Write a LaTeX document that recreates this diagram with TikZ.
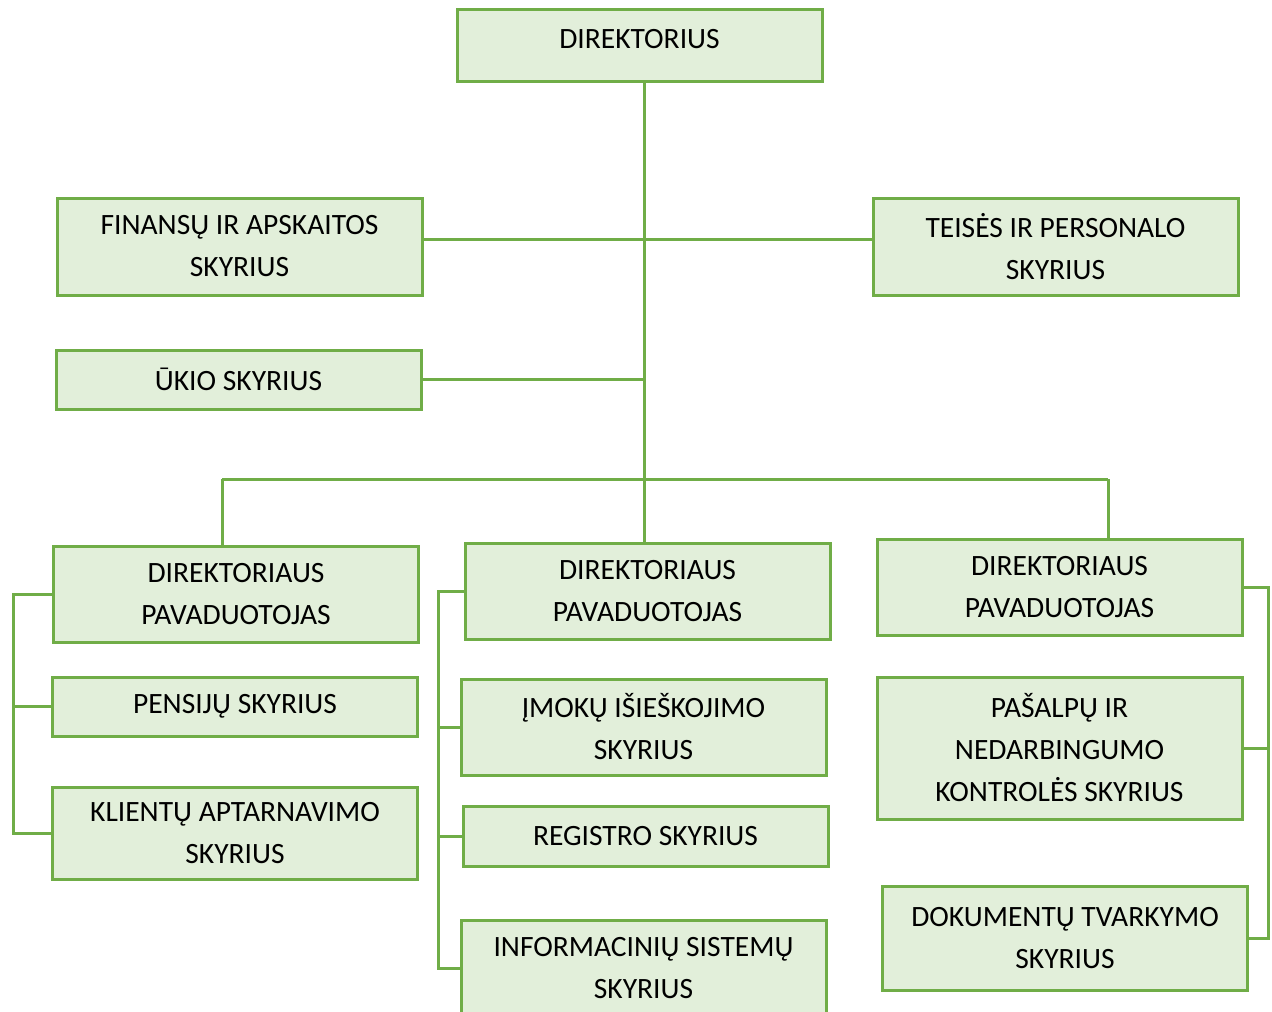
\documentclass[tikz,border=0pt]{standalone}
\usepackage{fontspec}
\setmainfont{Carlito}
\definecolor{orggreen}{HTML}{70AD47}
\definecolor{orgfill}{HTML}{E2EFDA}
\usetikzlibrary{positioning}

\begin{document}
\begin{tikzpicture}[x=0.5pt,y=-0.5pt,
  unit/.style={draw=orggreen,fill=orgfill,line width=1.5pt,align=center,
    inner sep=2pt,font=\fontsize{14.75}{21}\selectfont,minimum width=182.5pt},
  link/.style={orggreen,line width=1.5pt}]
  \useasboundingbox (0,0) rectangle (1272,1011);
  \node[unit,minimum height=36pt,text depth=7pt] (dir) at (639.5,46) {DIREKTORIUS};
  \node[unit,minimum height=48.5pt] (fin)    at (239.5,246.5) {FINANSŲ IR APSKAITOS\\SKYRIUS};
  \node[unit,minimum height=48.5pt] (teis)   at (1055.5,246.5){TEISĖS IR PERSONALO\\SKYRIUS};
  \node[unit,minimum height=29.5pt] (ukio)   at (238.5,379.5) {ŪKIO SKYRIUS};
  \node[unit,minimum height=48pt]   (pavA)   at (236,594)     {DIREKTORIAUS\\PAVADUOTOJAS};
  \node[unit,minimum height=48pt]   (pavB)   at (647.5,591)   {DIREKTORIAUS\\PAVADUOTOJAS};
  \node[unit,minimum height=48pt]   (pavC)   at (1059.5,587)  {DIREKTORIAUS\\PAVADUOTOJAS};
  \node[unit,minimum height=29.5pt] (pens)   at (235,706.5)   {PENSIJŲ SKYRIUS};
  \node[unit,minimum height=46pt]   (klient) at (235,833)     {KLIENTŲ APTARNAVIMO\\SKYRIUS};
  \node[unit,minimum height=48pt]   (imok)   at (643.5,727)   {ĮMOKŲ IŠIEŠKOJIMO\\SKYRIUS};
  \node[unit,minimum height=30pt]   (reg)    at (645.5,836)   {REGISTRO SKYRIUS};
  \node[unit,minimum height=48pt]   (info)   at (643.5,968)   {INFORMACINIŲ SISTEMŲ\\SKYRIUS};
  \node[unit,minimum height=71pt]   (pasalp) at (1059.5,748)  {PAŠALPŲ IR\\NEDARBINGUMO\\KONTROLĖS SKYRIUS};
  \node[unit,minimum height=52pt]   (dok)    at (1065,938)    {DOKUMENTŲ TVARKYMO\\SKYRIUS};
  % trunk and side units
  \coordinate (trunk) at (644,0);
  \draw[link] (dir.south -| trunk) -- (pavB.north -| trunk);
  \draw[link] ([yshift=3.5pt]fin.east) -- ([yshift=3.5pt]teis.west);
  \draw[link] (ukio.east) -- (ukio.east -| trunk);
  % deputies bus
  \coordinate (busL) at (222,479);
  \coordinate (busR) at (1108,479);
  \draw[link] (busL) -- (busR);
  \draw[link] (busL) -- (busL |- pavA.north);
  \draw[link] (busR) -- (busR |- pavC.north);
  % brackets under each deputy
  \coordinate (rodA) at (13,0);
  \coordinate (rodB) at (438,0);
  \coordinate (rodC) at (1268,0);
  \draw[link] (pavA.west) -- (pavA.west -| rodA) -- (klient.west -| rodA) -- (klient.west);
  \draw[link] (pens.west) -- (pens.west -| rodA);
  \draw[link] (pavB.west) -- (pavB.west -| rodB) -- (info.west -| rodB) -- (info.west);
  \draw[link] (imok.west) -- (imok.west -| rodB);
  \draw[link] (reg.west) -- (reg.west -| rodB);
  \draw[link] (pavC.east) -- (pavC.east -| rodC) -- (dok.east -| rodC) -- (dok.east);
  \draw[link] (pasalp.east) -- (pasalp.east -| rodC);
\end{tikzpicture}
\end{document}
